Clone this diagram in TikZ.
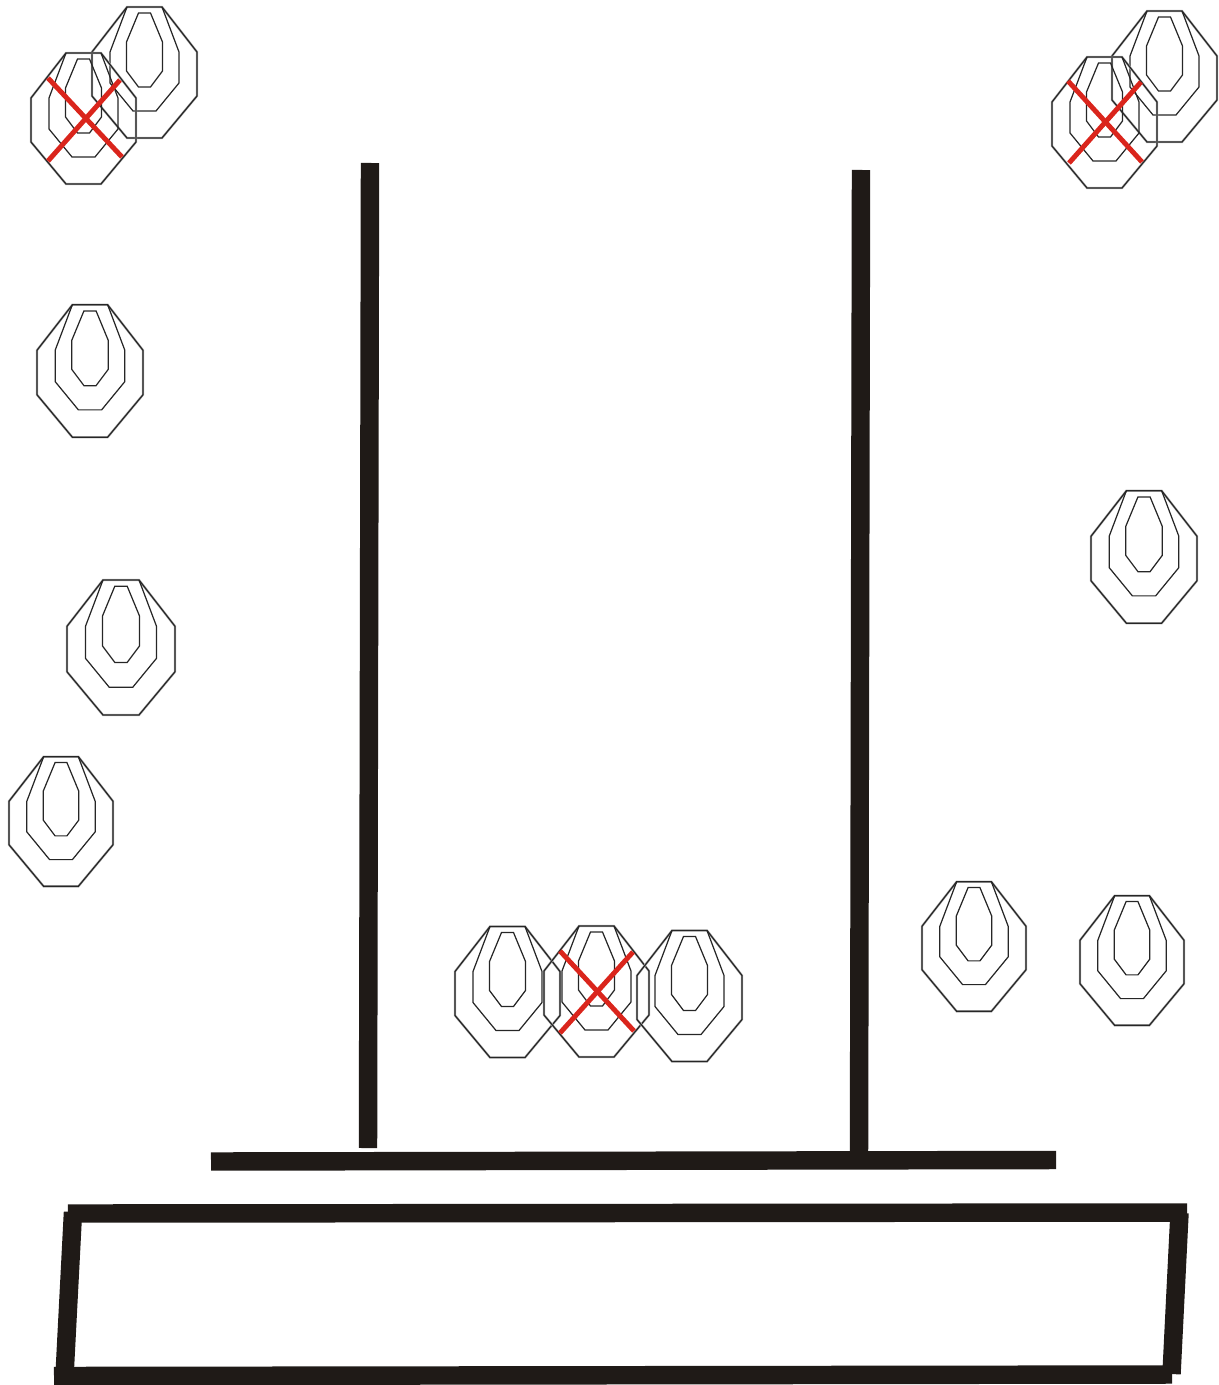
\documentclass[tikz,border=0pt]{standalone}
\usepackage{xcolor}
\definecolor{barblack}{HTML}{1F1A17}
\definecolor{crossred}{HTML}{DA251C}
\tikzset{
  bar/.style={line width=10.5pt,barblack},
  crossline/.style={line width=2.8pt,crossred},
  halo/.style={line width=1.3pt,gray!60},
  ring/.style={line width=0.7pt,black!85},
  pics/target/.style={code={
    \draw[halo] (-17.5,-66) -- (17.5,-66) -- (52.5,-21) -- (52.5,23) -- (17.5,65)
      -- (-17.5,65) -- (-52.5,23) -- (-52.5,-21) -- cycle;
    \draw[ring] (-17.5,-66) -- (17.5,-66) -- (52.5,-21) -- (52.5,23) -- (17.5,65)
      -- (-17.5,65) -- (-52.5,23) -- (-52.5,-21) -- cycle;
    \draw[ring] (-17.5,-66) -- (-34.5,-21) -- (-34.5,10) -- (-11.5,38) -- (11.5,38)
      -- (34.5,10) -- (34.5,-21) -- (17.5,-66);
    \draw[ring] (-6,-60) -- (6,-60) -- (18,-31) -- (18,-2) -- (6,14) -- (-6,14)
      -- (-18,-2) -- (-18,-31) -- cycle;
  }}
}

\begin{document}
\begin{tikzpicture}[x=0.02cm, y=-0.02cm]
\useasboundingbox (0,0) rectangle (1219,1385);

% ---- targets ---------------------------------------------------------------
\foreach \n/\x/\y/\s in {backleft/144.5/73/1, frontleft/83.5/119/1,
    backright/1164.5/77/1, frontright/1104.5/123/1,
    lefta/90/371.5/1.01, leftb/121/648/1.03, leftc/61/822/0.99,
    righta/1144/557.5/1.01, rightb/974/947/0.99, rightc/1132/961/0.99,
    lowa/507.5/992.5/1, lowb/596.5/992/1, lowc/689.5/996.5/1}
  \pic[scale=\s] (\n) at (\x,\y) {target};

% ---- crossed out targets ---------------------------------------------------
\foreach \a/\b/\c/\d in {48/78/122/157, 48/161/120/80,
    1068/81/1142/162, 1069/163/1141/82,
    560/951/634/1031, 560/1033/633/952}
  \draw[crossline] (\a,\b) -- (\c,\d);

% ---- uprights and crossbar -------------------------------------------------
\draw[bar] (370,163) -- (368,1148);
\draw[bar] (861,170) -- (859,1155);
\draw[bar] (211,1161.5) -- (1056,1160);

% ---- frame -----------------------------------------------------------------
\draw[bar] (68,1213.5) -- (1187,1212.5);
\draw[bar] (73,1212) -- (64.5,1376);
\draw[bar] (54,1376) -- (1172,1374.5);
\draw[bar] (1179.5,1213) -- (1171.5,1374);

\end{tikzpicture}
\end{document}
